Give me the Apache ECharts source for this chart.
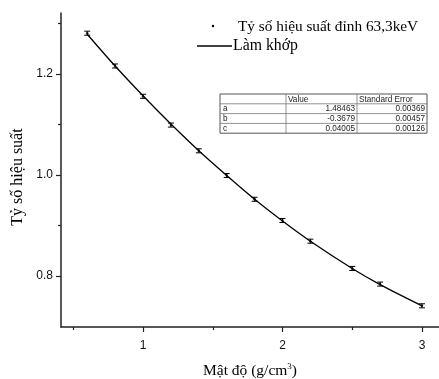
<!DOCTYPE html>
<html>
<head>
<meta charset="utf-8">
<script src="https://cdn.jsdelivr.net/npm/echarts@6/dist/echarts.min.js"></script>
<style>
html,body{margin:0;padding:0;background:#fff;}
#chart{width:439px;height:379px;}
</style>
</head>
<body>
<div id="chart"></div>
<script>
// ---- data ----
const density = [0.6, 0.8, 1.0, 1.2, 1.4, 1.6, 1.8, 2.0, 2.2, 2.5, 2.7, 3.0];
const efficiencyRatio = [1.281, 1.216, 1.156, 1.099, 1.048, 0.999, 0.952, 0.910, 0.869, 0.815, 0.784, 0.741];
const ratioError = [0.004, 0.004, 0.004, 0.004, 0.004, 0.004, 0.004, 0.004, 0.004, 0.004, 0.004, 0.004];
const fitValues = [1.279, 1.216, 1.157, 1.101, 1.048, 0.999, 0.952, 0.909, 0.869, 0.815, 0.783, 0.741];
const xMajorTicks = [1, 2, 3];
const xMinorTicks = [0.5, 1.5, 2.5];
const yMajorTicks = [0.8, 1.0, 1.2];
const yMinorTicks = [0.9, 1.1, 1.3];
const tableHeader = ['', 'Value', 'Standard Error'];
const paramNames = ['a', 'b', 'c'];
const paramValues = ['1.48463', '-0.3679', '0.04005'];
const paramErrors = ['0.00369', '0.00457', '0.00126'];
const legendPoints = 'Tỷ số hiệu suất đỉnh 63,3keV';
const legendFit = 'Làm khớp';
const xTitle = 'Mật độ (g/cm{sup|3})';
const yTitle = 'Tỷ số hiệu suất';

const SERIF = '"Liberation Serif", "DejaVu Serif", serif';
const SANS = '"Liberation Sans", Arial, sans-serif';
const AX = '#222';

const pts = density.map((x, i) => [x, efficiencyRatio[i]]);
const errPts = density.map((x, i) => [x, efficiencyRatio[i] - ratioError[i], efficiencyRatio[i] + ratioError[i]]);
const fitPts = density.map((x, i) => [x, fitValues[i]]);

// table graphic
const tX = 220, tY = 94, colW = [66, 71, 70], rowH = 9.8;
const tableEls = [];
const tW = colW.reduce((a, b) => a + b, 0);
const tH = rowH * 4;
tableEls.push({type: 'rect', shape: {x: tX, y: tY, width: tW, height: tH}, style: {fill: '#fff', stroke: '#555', lineWidth: 1}});
for (let r = 1; r < 4; r++) {
  tableEls.push({type: 'line', shape: {x1: tX, y1: tY + r * rowH, x2: tX + tW, y2: tY + r * rowH}, style: {stroke: '#777', lineWidth: 0.8}});
}
tableEls.push({type: 'line', shape: {x1: tX + colW[0], y1: tY, x2: tX + colW[0], y2: tY + tH}, style: {stroke: '#777', lineWidth: 0.8}});
tableEls.push({type: 'line', shape: {x1: tX + colW[0] + colW[1], y1: tY, x2: tX + colW[0] + colW[1], y2: tY + tH}, style: {stroke: '#777', lineWidth: 0.8}});
const tfont = '8.2px ' + SANS;
tableEls.push({type: 'text', x: tX + colW[0] + 2, y: tY + rowH / 2 + 0.5, style: {text: tableHeader[1], font: tfont, fill: '#222', verticalAlign: 'middle'}});
tableEls.push({type: 'text', x: tX + colW[0] + colW[1] + 2, y: tY + rowH / 2 + 0.5, style: {text: tableHeader[2], font: tfont, fill: '#222', verticalAlign: 'middle'}});
for (let i = 0; i < 3; i++) {
  const cy = tY + rowH * (i + 1) + rowH / 2 + 0.5;
  tableEls.push({type: 'text', x: tX + 3, y: cy, style: {text: paramNames[i], font: tfont, fill: '#222', verticalAlign: 'middle'}});
  tableEls.push({type: 'text', x: tX + colW[0] + colW[1] - 2, y: cy, style: {text: paramValues[i], font: tfont, fill: '#222', align: 'right', verticalAlign: 'middle'}});
  tableEls.push({type: 'text', x: tX + tW - 2, y: cy, style: {text: paramErrors[i], font: tfont, fill: '#222', align: 'right', verticalAlign: 'middle'}});
}

// legend + y title graphic
const otherEls = [
  {type: 'circle', shape: {cx: 213, cy: 26, r: 1.2}, style: {fill: '#000'}},
  {type: 'text', x: 238, y: 27, style: {text: legendPoints, font: '15.3px ' + SERIF, fill: '#000', verticalAlign: 'middle'}},
  {type: 'line', shape: {x1: 197, y1: 46, x2: 232, y2: 46}, style: {stroke: '#000', lineWidth: 1.3}},
  {type: 'text', x: 233, y: 46, style: {text: legendFit, font: '15.8px ' + SERIF, fill: '#000', verticalAlign: 'middle'}},
  {type: 'text', x: 18, y: 177, rotation: Math.PI / 2,
    style: {text: yTitle, font: '16px ' + SERIF, fill: '#000', align: 'center', verticalAlign: 'middle'}}
];

const xMin = 0.412, xMax = 3.122, yMin = 0.699, yMax = 1.321;

const chart = echarts.init(document.getElementById('chart'), null, {renderer: 'canvas'});
chart.setOption({
  animation: false,
  backgroundColor: '#fff',
  grid: {left: 61, top: 13, right: 0, bottom: 52, containLabel: false, outerBoundsMode: 'none'},
  xAxis: [{
    type: 'value', min: xMin, max: xMax,
    axisLine: {show: true, lineStyle: {color: AX, width: 1.5}},
    axisTick: {show: true, customValues: xMajorTicks, length: 5, lineStyle: {color: AX, width: 1.2}},
    axisLabel: {customValues: xMajorTicks, color: '#111', fontFamily: SANS, fontSize: 12, margin: 13},
    splitLine: {show: false},
    name: xTitle, nameLocation: 'middle', nameGap: 35,
    nameTextStyle: {fontFamily: SERIF, fontSize: 15.5, color: '#000',
      rich: {sup: {fontFamily: SERIF, fontSize: 9, verticalAlign: 'top', padding: [0, 0, 9, 0], color: '#000'}}}
  }, {
    type: 'value', min: xMin, max: xMax, position: 'bottom',
    axisLine: {show: false},
    axisTick: {show: true, customValues: xMinorTicks, length: 3, lineStyle: {color: AX, width: 1.2}},
    axisLabel: {show: false}, splitLine: {show: false}
  }],
  yAxis: [{
    type: 'value', min: yMin, max: yMax,
    axisLine: {show: true, lineStyle: {color: AX, width: 1.5}},
    axisTick: {show: true, customValues: yMajorTicks, length: 5, lineStyle: {color: AX, width: 1.2}},
    axisLabel: {customValues: yMajorTicks, color: '#111', fontFamily: SANS, fontSize: 12, margin: 8,
      formatter: v => v.toFixed(1)},
    splitLine: {show: false}
  }, {
    type: 'value', min: yMin, max: yMax, position: 'left',
    axisLine: {show: false},
    axisTick: {show: true, customValues: yMinorTicks, length: 3, lineStyle: {color: AX, width: 1.2}},
    axisLabel: {show: false}, splitLine: {show: false}
  }],
  series: [
    {
      name: legendFit, type: 'line', data: fitPts, smooth: 0.3, showSymbol: false,
      lineStyle: {color: '#000', width: 1.3}, z: 2
    },
    {
      name: 'err', type: 'custom', data: errPts, z: 3,
      renderItem: function (params, api) {
        const x = api.value(0);
        const lo = api.coord([x, api.value(1)]);
        const hi = api.coord([x, api.value(2)]);
        const hw = 3;
        const st = {stroke: '#000', lineWidth: 1};
        return {type: 'group', children: [
          {type: 'line', shape: {x1: lo[0], y1: lo[1], x2: hi[0], y2: hi[1]}, style: st},
          {type: 'line', shape: {x1: lo[0] - hw, y1: lo[1], x2: lo[0] + hw, y2: lo[1]}, style: st},
          {type: 'line', shape: {x1: hi[0] - hw, y1: hi[1], x2: hi[0] + hw, y2: hi[1]}, style: st}
        ]};
      }
    },
    {
      name: legendPoints, type: 'scatter', data: pts, symbol: 'circle', symbolSize: 2.5,
      itemStyle: {color: '#000'}, z: 4
    }
  ],
  graphic: otherEls.concat(tableEls)
});
</script>
</body>
</html>
